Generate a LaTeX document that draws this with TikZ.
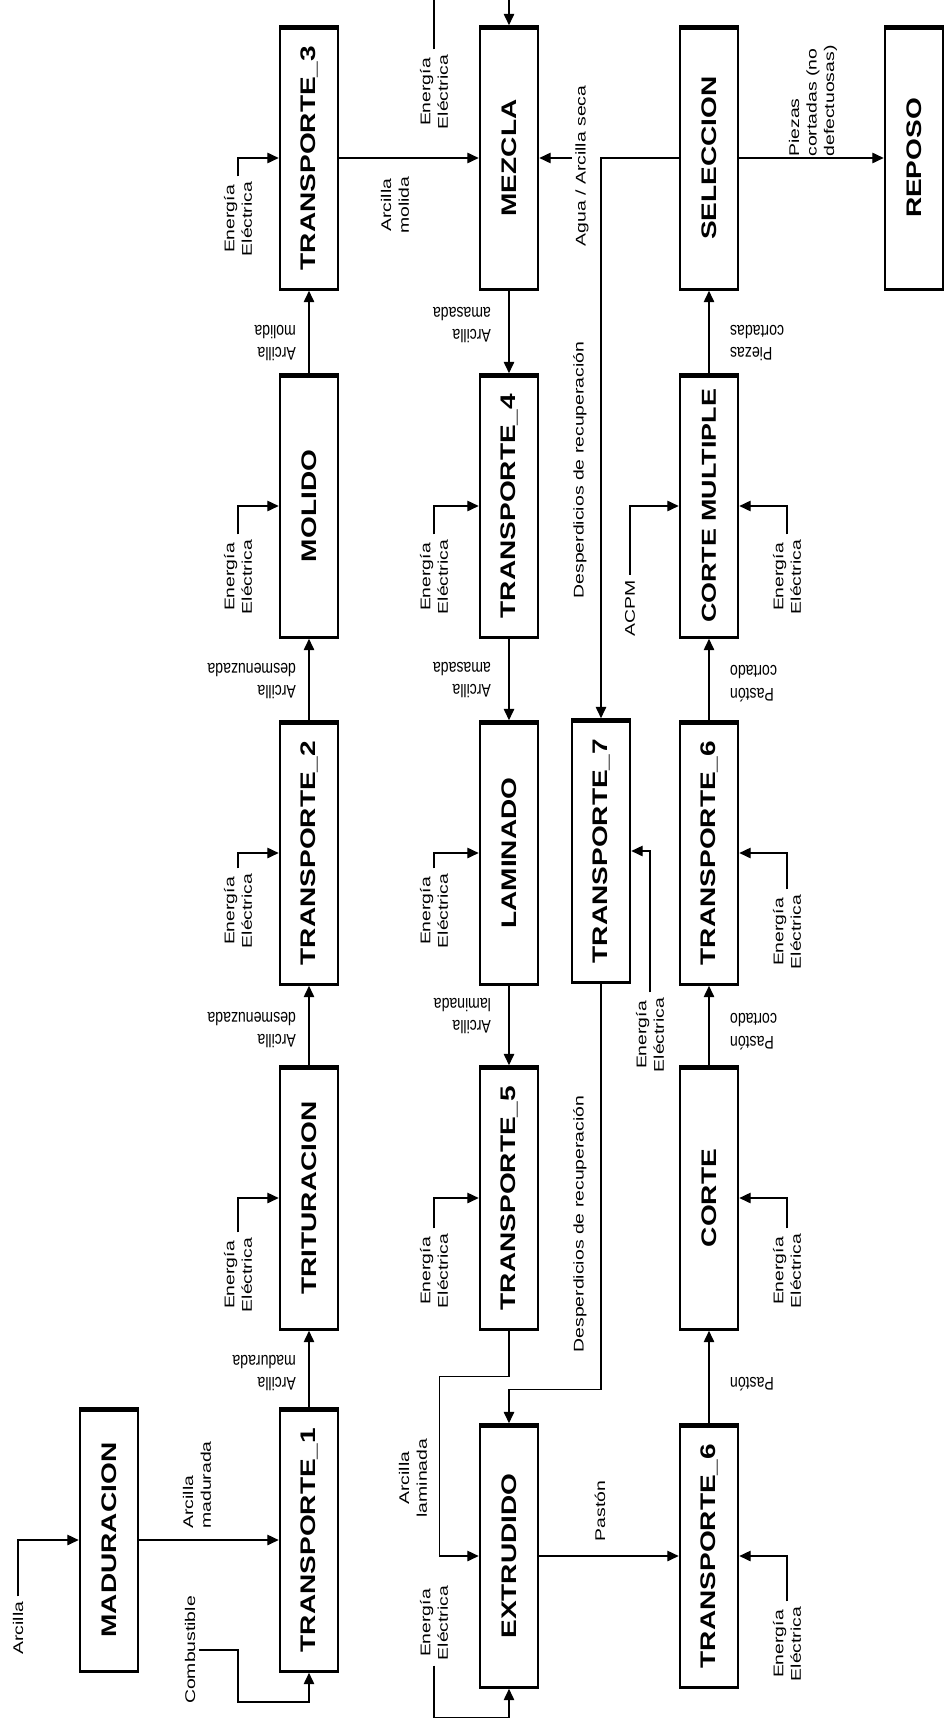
\documentclass[tikz,border=0pt]{standalone}
\usepackage{fontspec}
\setmainfont{Liberation Sans}
\usepackage{graphicx}
\usetikzlibrary{arrows.meta}

\newcommand{\uptext}[1]{\rotatebox{90}{\scalebox{1.33}[1]{#1}}}

\tikzset{
  proc/.style={draw, line width=1.5pt, minimum width=1.16cm, minimum height=5.26cm, inner sep=0pt,
    font=\fontsize{12}{14}\selectfont\bfseries,
    path picture={\draw[line width=4pt] (path picture bounding box.north west) -- (path picture bounding box.north east);}},
  uplbl/.style={rotate=90, xscale=1.38, font=\fontsize{8}{10}\selectfont, align=center, inner sep=2pt},
  dnlbl/.style={rotate=180, yscale=1.3, font=\fontsize{8}{10}\selectfont, inner sep=1pt},
  flow/.style={-{Triangle[length=6.5pt,width=6pt]}, line width=0.75pt},
  wire/.style={line width=0.75pt}
}

\begin{document}
\begin{tikzpicture}[x=0.02cm, y=-0.02cm]
  \useasboundingbox (0,0) rectangle (945,1730);
  \coordinate (top) at (0,0);

  % procesos
  \node[proc] (madur) at (109,1540) {\uptext{MADURACION}};
  \node[proc] (tr1) at (309,1540) {\uptext{TRANSPORTE\_1}};
  \node[proc] (trit) at (309,1198) {\uptext{TRITURACION}};
  \node[proc] (tr2) at (309,853) {\uptext{TRANSPORTE\_2}};
  \node[proc] (molido) at (309,506) {\uptext{MOLIDO}};
  \node[proc] (tr3) at (309,158) {\uptext{TRANSPORTE\_3}};
  \node[proc] (mezcla) at (509,158) {\uptext{MEZCLA}};
  \node[proc] (tr4) at (509,506) {\uptext{TRANSPORTE\_4}};
  \node[proc] (lamin) at (509,853) {\uptext{LAMINADO}};
  \node[proc] (tr5) at (509,1198) {\uptext{TRANSPORTE\_5}};
  \node[proc] (extr) at (509,1556) {\uptext{EXTRUDIDO}};
  \node[proc] (tr7) at (601,851) {\uptext{TRANSPORTE\_7}};
  \node[proc] (tr6a) at (709,1556) {\uptext{TRANSPORTE\_6}};
  \node[proc] (corte) at (709,1198) {\uptext{CORTE}};
  \node[proc] (tr6b) at (709,853) {\uptext{TRANSPORTE\_6}};
  \node[proc, font=\fontsize{11.5}{14}\selectfont\bfseries] (cmult) at (709,506) {\uptext{CORTE MULTIPLE}};
  \node[proc] (selec) at (709,158) {\uptext{SELECCION}};
  \node[proc] (reposo) at (914,158) {\uptext{REPOSO}};

  % entradas
  \node[uplbl] (arcilla) at (18,1628) {Arcilla};
  \node[uplbl] (comb) at (190,1650) {Combustible};
  \node[uplbl] (e-trit) at (238,1275) {Energía\\Eléctrica};
  \node[uplbl] (e-tr2) at (238,911) {Energía\\Eléctrica};
  \node[uplbl] (e-molido) at (238,577) {Energía\\Eléctrica};
  \node[uplbl] (e-tr3) at (238,219) {Energía\\Eléctrica};
  \node[uplbl] (e-mezcla) at (434,92) {Energía\\Eléctrica};
  \node[uplbl] (e-tr4) at (434,577) {Energía\\Eléctrica};
  \node[uplbl] (e-lamin) at (434,911) {Energía\\Eléctrica};
  \node[uplbl] (e-tr5) at (434,1271) {Energía\\Eléctrica};
  \node[uplbl] (e-extr) at (434,1623) {Energía\\Eléctrica};
  \node[uplbl] (e-tr7) at (650,1035) {Energía\\Eléctrica};
  \node[uplbl] (e-cmult) at (787,577) {Energía\\Eléctrica};
  \node[uplbl] (e-tr6b) at (787,932) {Energía\\Eléctrica};
  \node[uplbl] (e-corte) at (787,1271) {Energía\\Eléctrica};
  \node[uplbl] (e-tr6a) at (787,1644) {Energía\\Eléctrica};
  \node[uplbl] (acpm) at (630,608) {ACPM};
  \node[uplbl] (agua) at (582,166) {Agua / Arcilla seca};

  % etiquetas de flujo
  \node[uplbl, align=left] at (197,1485) {Arcilla\\madurada};
  \node[uplbl] at (395,205) {Arcilla\\molida};
  \node[uplbl, align=left] at (813,101) {Piezas\\cortadas (no\\defectuosas)};
  \node[uplbl] at (413,1478) {Arcilla\\laminada};
  \node[uplbl] at (600,1511) {Pastón};
  \node[uplbl] at (580,470) {Desperdicios de recuperación};
  \node[uplbl] at (580,1224) {Desperdicios de recuperación};

  \node[dnlbl, anchor=west, align=left] at (298,1373) {Arcilla\\madurada};
  \node[dnlbl, anchor=west, align=left] at (298,1030) {Arcilla\\desmenuzada};
  \node[dnlbl, anchor=west, align=left] at (298,681) {Arcilla\\desmenuzada};
  \node[dnlbl, anchor=west, align=left] at (298,343) {Arcilla\\molida};
  \node[dnlbl, anchor=west, align=left] at (493,325) {Arcilla\\amasada};
  \node[dnlbl, anchor=west, align=left] at (493,680) {Arcilla\\amasada};
  \node[dnlbl, anchor=west, align=left] at (493,1016) {Arcilla\\laminada};
  \node[dnlbl, anchor=east, align=right] at (728,343) {Piezas\\cortadas};
  \node[dnlbl, anchor=east, align=right] at (728,684) {Pastón\\cortado};
  \node[dnlbl, anchor=east, align=right] at (728,1032) {Pastón\\cortado};
  \node[dnlbl, anchor=east, align=right] at (728,1384) {Pastón};

  % flujo principal
  \draw[flow] (madur.east) -- (tr1.west);
  \draw[flow] (tr1.north) -- (trit.south);
  \draw[flow] (trit.north) -- (tr2.south);
  \draw[flow] (tr2.north) -- (molido.south);
  \draw[flow] (molido.north) -- (tr3.south);
  \draw[flow] (tr3.east) -- (mezcla.west);
  \draw[flow] (mezcla.south) -- (tr4.north);
  \draw[flow] (tr4.south) -- (lamin.north);
  \draw[flow] (lamin.south) -- (tr5.north);
  \draw[flow] (tr5.south) -- ++(0,46) -| ([xshift=-0.78cm]extr.west) -- (extr.west);
  \draw[flow] (tr7.south) |- ([yshift=0.68cm]extr.north) -- (extr.north);
  \draw[flow] (extr.east) -- (tr6a.west);
  \draw[flow] (tr6a.north) -- (corte.south);
  \draw[flow] (corte.north) -- (tr6b.south);
  \draw[flow] (tr6b.north) -- (cmult.south);
  \draw[flow] (cmult.north) -- (selec.south);
  \draw[flow] (selec.east) -- (reposo.west);
  \draw[flow] (selec.west) -| (tr7.north);
  \draw[flow] (agua.north |- mezcla.east) -- (mezcla.east);

  % entradas auxiliares
  \draw[flow] (arcilla.east) |- (madur.west);
  \draw[flow] (comb.south) -| ++(39,52) -| (tr1.south);
  \draw[flow] (e-trit.east) |- (trit.west);
  \draw[flow] (e-tr2.east) |- (tr2.west);
  \draw[flow] (e-molido.east) |- (molido.west);
  \draw[flow] (e-tr3.east) |- (tr3.west);
  \draw[wire] (e-mezcla.east) -- (e-mezcla.east |- top);
  \draw[flow] (mezcla.north |- top) -- (mezcla.north);
  \draw[flow] (e-tr4.east) |- (tr4.west);
  \draw[flow] (e-lamin.east) |- (lamin.west);
  \draw[flow] (e-tr5.east) |- (tr5.west);
  \draw[flow] (e-extr.west) -- ++(0,52) -| (extr.south);
  \draw[flow] (e-tr7.east) |- (tr7.east);
  \draw[flow] (acpm.east) |- (cmult.west);
  \draw[flow] (e-cmult.east) |- (cmult.east);
  \draw[flow] (e-tr6b.east) |- (tr6b.east);
  \draw[flow] (e-corte.east) |- (corte.east);
  \draw[flow] (e-tr6a.east) |- (tr6a.east);
\end{tikzpicture}
\end{document}
